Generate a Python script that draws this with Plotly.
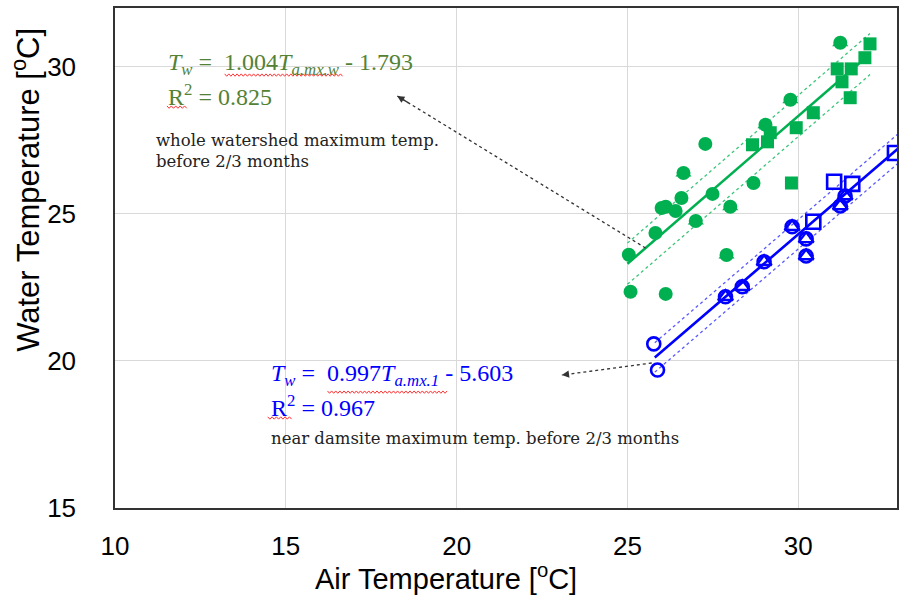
import numpy as np
import plotly.graph_objects as go

# ---- whole-watershed series (green) ----
ws_circle_x = [25.04, 25.82, 25.09, 26.12, 26.00, 26.12, 26.41, 26.58, 26.64, 27.00,
               27.28, 27.49, 27.90, 28.01, 28.69, 29.04, 29.77, 31.23]
ws_circle_y = [23.61, 24.35, 22.35, 22.28, 25.20, 25.24, 25.10, 25.54, 26.39, 24.76,
               27.38, 25.68, 23.60, 25.24, 26.05, 28.03, 28.88, 30.82]
ws_tri_x = [26.64, 27.00, 27.90, 28.01, 29.04, 29.77, 31.23]
ws_tri_y = [26.39, 24.76, 23.60, 25.24, 28.03, 28.88, 30.82]
ws_sq_x = [28.66, 29.10, 29.18, 29.94, 30.44, 29.80, 31.14, 31.55, 31.28, 31.52, 31.95, 32.10]
ws_sq_y = [27.35, 27.45, 27.76, 27.93, 28.44, 26.05, 29.93, 29.93, 29.49, 28.95, 30.31, 30.78]

# ---- near-damsite series (blue) ----
ds_circle_x = [25.77, 25.88, 27.87, 28.36, 29.00, 29.82, 30.23, 30.23, 31.23, 31.37]
ds_circle_y = [20.58, 19.69, 22.18, 22.52, 23.37, 24.56, 24.15, 23.57, 25.27, 25.61]
ds_tri_x = [27.87, 28.36, 29.00, 29.82, 30.23, 30.23, 31.23, 31.37]
ds_tri_y = [22.18, 22.52, 23.37, 24.56, 24.15, 23.57, 25.27, 25.61]
ds_sq_x = [30.44, 31.05, 31.58, 32.83]
ds_sq_y = [24.73, 26.09, 26.02, 27.07]

# regression coefficients (slope, intercept, R^2) and fitted x-span
ws_fit = (1.004, -1.793, 0.825)
ws_span = (25.0, 32.1)
ws_band = 0.7
ds_fit = (0.997, -5.603, 0.967)
ds_span = (25.8, 34.0)
ds_band = 0.5

x_ticks = [10, 15, 20, 25, 30]
y_ticks = [15, 20, 25, 30]

GREEN = "#00B050"
GREEN_TXT = "#548235"
BLUE = "#0000FF"

fig = go.Figure()


def add_fit(span, fit, band, color, dash_color):
    xs = np.array(span)
    ys = fit[0] * xs + fit[1]
    for off in (band, -band):
        fig.add_trace(go.Scatter(x=xs, y=ys + off, mode="lines",
                                 line=dict(color=dash_color, width=1.3, dash="dot"),
                                 hoverinfo="skip", showlegend=False))
    fig.add_trace(go.Scatter(x=xs, y=ys, mode="lines",
                             line=dict(color=color, width=2.6),
                             hoverinfo="skip", showlegend=False))


add_fit(ws_span, ws_fit, ws_band, GREEN, "#3CC47A")
add_fit(ds_span, ds_fit, ds_band, BLUE, "#5A5AFF")

# green filled markers
fig.add_trace(go.Scatter(x=ws_circle_x, y=ws_circle_y, mode="markers",
                         marker=dict(symbol="circle", size=14, color=GREEN),
                         showlegend=False))
fig.add_trace(go.Scatter(x=ws_tri_x, y=ws_tri_y, mode="markers",
                         marker=dict(symbol="triangle-up", size=14, color=GREEN),
                         showlegend=False))
fig.add_trace(go.Scatter(x=ws_sq_x, y=ws_sq_y, mode="markers",
                         marker=dict(symbol="square", size=13, color=GREEN),
                         showlegend=False))

# blue open markers
fig.add_trace(go.Scatter(x=ds_circle_x, y=ds_circle_y, mode="markers",
                         marker=dict(symbol="circle-open", size=13, color=BLUE,
                                     line=dict(color=BLUE, width=2.6)),
                         showlegend=False))
fig.add_trace(go.Scatter(x=ds_tri_x, y=ds_tri_y, mode="markers",
                         marker=dict(symbol="triangle-up-open", size=13, color=BLUE,
                                     line=dict(color=BLUE, width=2.4)),
                         showlegend=False))
fig.add_trace(go.Scatter(x=ds_sq_x, y=ds_sq_y, mode="markers",
                         marker=dict(symbol="square-open", size=14, color=BLUE,
                                     line=dict(color=BLUE, width=2.6)),
                         showlegend=False))

SERIF = "Liberation Serif, Times New Roman, serif"
BODY = "DejaVu Serif, serif"


def eq_text(fit, sub):
    return ("<i>T</i><sub><i>w</i></sub> =&nbsp; %.3f<i>T</i><sub><i>%s</i></sub> - %.3f"
            % (fit[0], sub, abs(fit[1])))


def label(x, y, text, color, size, family):
    fig.add_annotation(x=x, y=y, text=text, showarrow=False, xanchor="left",
                       yanchor="middle", font=dict(family=family, size=size, color=color))


# equation labels
label(11.5, 30.1, eq_text(ws_fit, "a.mx.w"), GREEN_TXT, 24, SERIF)
label(11.5, 29.05, "R<sup>2</sup> = %.3f" % ws_fit[2], GREEN_TXT, 24, SERIF)
label(11.15, 27.5, "whole watershed maximum temp.", "#222222", 16.5, BODY)
label(11.15, 26.78, "before 2/3 months", "#222222", 16.5, BODY)

label(14.5, 19.52, eq_text(ds_fit, "a.mx.1"), BLUE, 24, SERIF)
label(14.5, 18.47, "R<sup>2</sup> = %.3f" % ds_fit[2], BLUE, 24, SERIF)
label(14.5, 17.36, "near damsite maximum temp. before 2/3 months", "#222222", 16.5, BODY)


def dotted_arrow(tail, head):
    fig.add_shape(type="line", x0=tail[0], y0=tail[1], x1=head[0], y1=head[1],
                  xref="x", yref="y", line=dict(color="#333333", width=1.3, dash="dot"))
    tx = head[0] + 0.05 * (tail[0] - head[0])
    ty = head[1] + 0.05 * (tail[1] - head[1])
    fig.add_annotation(x=head[0], y=head[1], ax=tx, ay=ty, axref="x", ayref="y",
                       xref="x", yref="y", text="", showarrow=True, arrowhead=2,
                       arrowsize=1.2, arrowwidth=1.2, arrowcolor="#333333")


dotted_arrow((25.53, 23.84), (18.26, 29.01))
dotted_arrow((25.71, 19.93), (23.08, 19.52))


def squiggle(x0, x1, y):
    # wavy proofing underline
    n = int((x1 - x0) / 0.06)
    xs = np.linspace(x0, x1, n + 1)
    ys = y + np.where(np.arange(n + 1) % 2 == 0, 0.04, -0.04)
    path = "M " + " L ".join("%.4f,%.4f" % (a, b) for a, b in zip(xs, ys))
    fig.add_shape(type="path", path=path, xref="x", yref="y",
                  line=dict(color="#FF3030", width=1))


squiggle(13.21, 16.66, 29.72)
squiggle(11.52, 12.10, 28.63)
squiggle(16.22, 19.72, 18.94)
squiggle(14.47, 15.17, 18.06)

SANS = "Liberation Sans, Arial, sans-serif"
TICKFONT = dict(family=SANS, size=26, color="#000000")

fig.update_xaxes(range=[10, 32.89], tickvals=x_ticks, showgrid=True, gridcolor="#D9D9D9",
                 gridwidth=1, zeroline=False, showline=True, linecolor="#333333",
                 linewidth=1.5, mirror=True, ticks="", tickfont=TICKFONT,
                 ticklabelstandoff=14)
fig.update_yaxes(range=[15, 32.0], tickvals=y_ticks, showgrid=True, gridcolor="#D9D9D9",
                 gridwidth=1, zeroline=False, showline=True, linecolor="#333333",
                 linewidth=1.5, mirror=True, ticks="", tickfont=TICKFONT,
                 ticklabelstandoff=32)

# axis titles
fig.add_annotation(x=-0.114, y=0.636, xref="paper", yref="paper", showarrow=False,
                   xanchor="center", yanchor="middle",
                   text="Water Temperature [<sup>o</sup>C]", textangle=-90,
                   font=dict(family=SANS, size=31, color="#000"))
fig.add_annotation(x=0.4235, y=-0.138, xref="paper", yref="paper", showarrow=False,
                   xanchor="center", yanchor="middle",
                   text="Air Temperature [<sup>o</sup>C]",
                   font=dict(family=SANS, size=29, color="#000"))

fig.update_layout(width=899, height=598, margin=dict(l=115, r=0, t=8, b=90),
                  plot_bgcolor="white", paper_bgcolor="white", showlegend=False)

fig.write_html("out.html")
